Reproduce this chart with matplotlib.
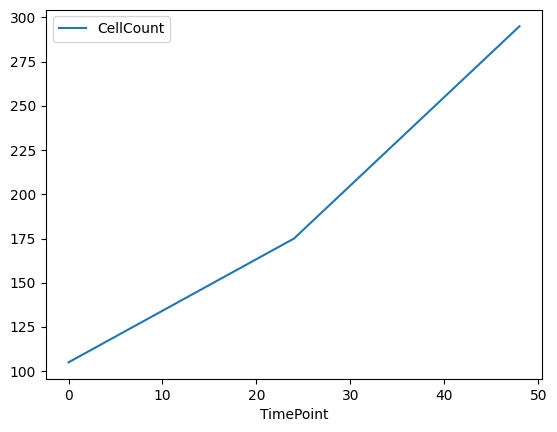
import matplotlib
matplotlib.use("Agg")
import matplotlib.pyplot as plt
import pandas as pd

time_points = [0, 24, 48]
cell_counts = [105, 175, 295]

df = pd.DataFrame({"TimePoint": time_points, "CellCount": cell_counts})

fig, ax = plt.subplots(figsize=(5.57, 4.32), dpi=100)
fig.subplots_adjust(left=0.0826, right=0.9731, top=0.978, bottom=0.1224)
df.plot(x="TimePoint", y="CellCount", ax=ax)
fig.savefig("out.png", dpi=100)
